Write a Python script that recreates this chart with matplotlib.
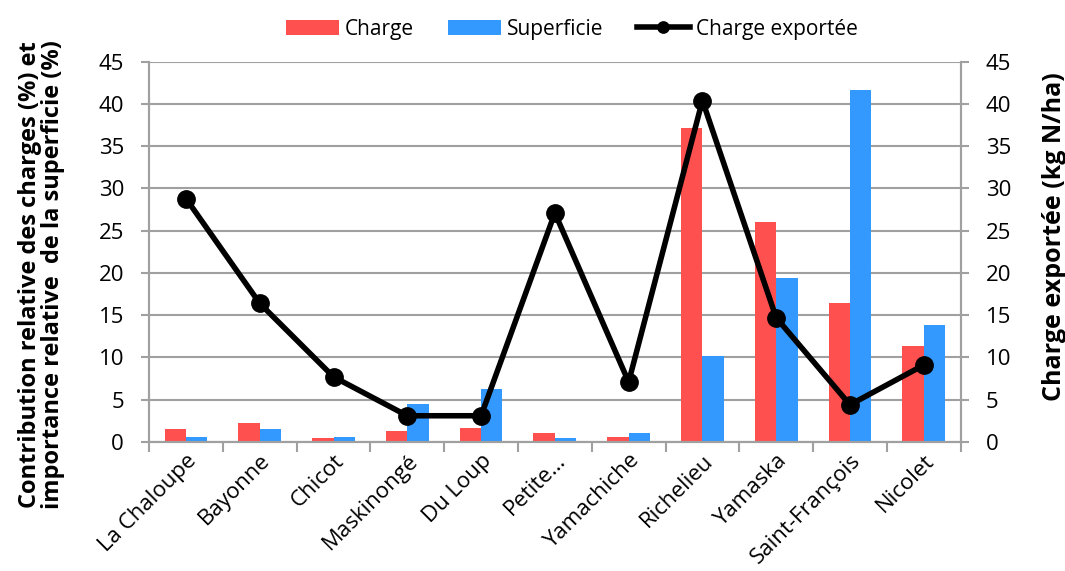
import matplotlib.pyplot as plt
import numpy as np

plt.rcParams['font.family'] = ['Open Sans', 'DejaVu Sans']

# données
rivieres = ['La Chaloupe', 'Bayonne', 'Chicot', 'Maskinongé', 'Du Loup', 'Petite…',
            'Yamachiche', 'Richelieu', 'Yamaska', 'Saint-François', 'Nicolet']
charge = [1.5, 2.2, 0.5, 1.3, 1.7, 1.1, 0.6, 37.2, 26.0, 16.4, 11.4]
superficie = [0.6, 1.5, 0.6, 4.5, 6.3, 0.5, 1.1, 10.2, 19.4, 41.6, 13.8]
charge_exportee = [28.8, 16.4, 7.7, 3.1, 3.1, 27.1, 7.1, 40.4, 14.7, 4.4, 9.1]

fig = plt.figure(figsize=(10.65, 5.71), dpi=100)
ax = fig.add_axes([0.14, 0.226, 0.762, 0.666])
ax2 = ax.twinx()

x = np.arange(len(rivieres))
w = 0.29
ax.bar(x - w / 2, charge, w, color='#ff5050', label='Charge', zorder=2)
ax.bar(x + w / 2, superficie, w, color='#3399ff', label='Superficie', zorder=2)
ax2.plot(x, charge_exportee, color='black', lw=4, marker='o', ms=12.5,
         label='Charge exportée', zorder=3)

gris = '#a0a0a0'
for a in (ax, ax2):
    a.set_ylim(0, 45)
    a.set_yticks(range(0, 50, 5))
    a.set_xlim(-0.5, len(rivieres) - 0.5)
    a.tick_params(axis='y', length=6, width=1.5, color=gris, labelsize=16, pad=12)
    for s in a.spines.values():
        s.set_color(gris)
        s.set_linewidth(1.5)
    a.spines['top'].set_visible(False)

ax.yaxis.grid(True, color=gris, lw=1.5, zorder=0)
ax.set_axisbelow(True)
ax.set_xticks(x)
ax.set_xticklabels(rivieres, rotation=45, ha='right', rotation_mode='anchor', fontsize=16)
ax.set_xticks(np.arange(-0.5, len(rivieres)), minor=True)
ax.tick_params(axis='x', which='major', length=0, pad=6)
ax.tick_params(axis='x', which='minor', length=7, color=gris, width=1.5)

ax.set_ylabel('Contribution relative des charges (%) et\nimportance relative  de la superficie (%)',
              fontsize=17, fontweight='bold', linespacing=0.95)
ax.yaxis.set_label_coords(-0.104, 0.44)
ax2.set_ylabel('Charge exportée (kg N/ha)', fontsize=18, fontweight='bold')
ax2.yaxis.set_label_coords(1.1, 0.54)

h1, l1 = ax.get_legend_handles_labels()
h2, l2 = ax2.get_legend_handles_labels()
fig.legend(h1 + h2, l1 + l2, loc='upper center', bbox_to_anchor=(0.537, 1.0), ncol=3,
           frameon=False, fontsize=15, handlelength=2.55, columnspacing=1.6,
           handletextpad=0.3, markerscale=0.65)

plt.savefig('out.png', dpi=100)
